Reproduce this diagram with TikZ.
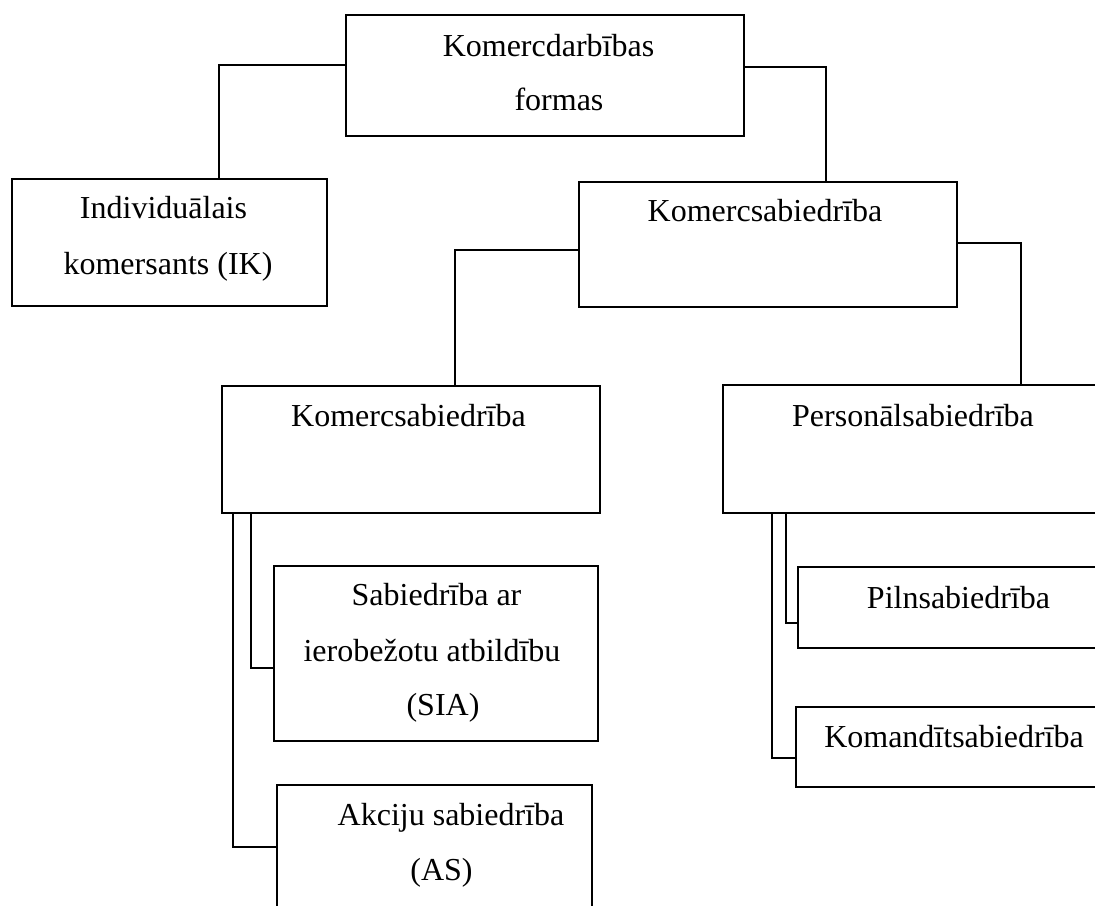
\documentclass[tikz,border=0pt]{standalone}
\usepackage{fontspec}
\setmainfont{Liberation Serif}
\begin{document}
\begin{tikzpicture}[x=1pt,y=-1pt,
  box/.style={draw,line width=2.2pt,rectangle,inner sep=0pt,outer sep=0pt},
  lbl/.style={anchor=base,inner sep=0pt,font=\fontsize{32}{38}\selectfont},
  conn/.style={line width=1.6pt},
  thinconn/.style={line width=1.1pt}]
\useasboundingbox (0,0) rectangle (1095,905);
\clip (0,0) rectangle (1095,905);
% boxes
\node[box,minimum width=398pt,minimum height=121pt] (top) at (545,75.5) {};
\node[box,minimum width=315pt,minimum height=127pt] (ik) at (169.5,242.5) {};
\node[box,minimum width=378pt,minimum height=125pt] (ks) at (768,244.5) {};
\node[box,minimum width=378pt,minimum height=127pt] (ksl) at (411,449.5) {};
\node[box,minimum width=397pt,minimum height=128pt] (pers) at (921.5,449) {};
\node[box,minimum width=324pt,minimum height=175pt] (sia) at (436,653.5) {};
\node[box,minimum width=315pt,minimum height=145pt] (as) at (434.5,857.5) {};
\node[box,minimum width=322pt,minimum height=81pt] (pil) at (959,607.5) {};
\node[box,minimum width=324pt,minimum height=80pt] (kom) at (958,747) {};
% texts
\node[lbl] (t1) at (548.5,56) {Komercdarbības};
\node[lbl] (t2) at (559,110) {formas};
\node[lbl] (t3) at (163.5,218) {Individuālais};
\node[lbl] (t4) at (168,274) {komersants (IK)};
\node[lbl] (t5) at (765,221) {Komercsabiedrība};
\node[lbl] (t6) at (408.5,426) {Komercsabiedrība};
\node[lbl] (t7) at (913,426) {Personālsabiedrība};
\node[lbl] (t8) at (436.5,605) {Sabiedrība ar};
\node[lbl] (t9) at (432,661) {ierobežotu atbildību};
\node[lbl] (t10) at (443,715) {(SIA)};
\node[lbl] (t11) at (451,825) {Akciju sabiedrība};
\node[lbl] (t12) at (441.5,880) {(AS)};
\node[lbl] (t13) at (958.5,608) {Pilnsabiedrība};
\node[lbl] (t14) at (954,747) {Komandītsabiedrība};
% connectors
\draw[conn] ([yshift=10.5pt]top.west) -| ([xshift=49.5pt]ik.north);
\draw[thinconn] ([yshift=8.5pt]top.east) -| ([xshift=58pt]ks.north);
\draw[conn] ([yshift=-5.5pt]ks.west) -| ([xshift=44pt]ksl.north);
\draw[thinconn] ([yshift=1.5pt]ks.east) -| ([xshift=99.5pt]pers.north);
\draw[conn] ([xshift=29pt]ksl.south west) |- ([yshift=-14.5pt]sia.west);
\draw[conn] ([xshift=11pt]ksl.south west) |- ([yshift=10.5pt]as.west);
\draw[conn] ([xshift=63pt]pers.south west) |- ([yshift=-15.5pt]pil.west);
\draw[conn] ([xshift=49pt]pers.south west) |- ([yshift=-11pt]kom.west);
\end{tikzpicture}
\end{document}
